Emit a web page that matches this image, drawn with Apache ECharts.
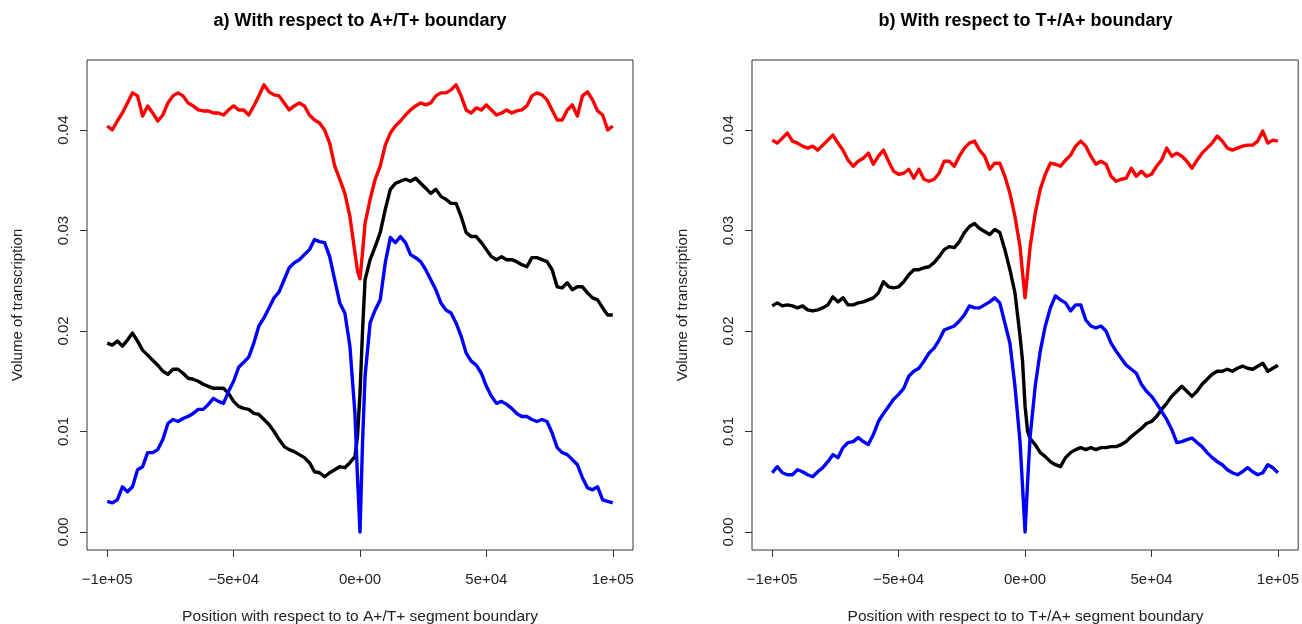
<!DOCTYPE html>
<html>
<head>
<meta charset="utf-8">
<title>Volume of transcription around segment boundaries</title>
<script src="https://cdn.jsdelivr.net/npm/echarts@6/dist/echarts.min.js"></script>
<style>
  html, body { margin: 0; padding: 0; background: #fff; }
  #chart { width: 1302px; height: 624px; }
</style>
</head>
<body>
<div id="chart"></div>
<script>
// Positions relative to the segment boundary, in kb (converted to bp below)
const positionKb = [
  -100,-98,-96,-94,-92,-90,-88,-86,-84,-82,-80,-78,-76,-74,-72,-70,-68,-66,-64,-62,
  -60,-58,-56,-54,-52,-50,-48,-46,-44,-42,-40,-38,-36,-34,-32,-30,-28,-26,-24,-22,
  -20,-18,-16,-14,-12,-10,-8,-6,-4,-2,-1,0,1,2,4,6,8,10,12,14,16,18,20,22,24,26,28,
  30,32,34,36,38,40,42,44,46,48,50,52,54,56,58,60,62,64,66,68,70,72,74,76,78,80,82,
  84,86,88,90,92,94,96,98,100
];

// Volumes of transcription, stored in units of 1e-3
// a) A+/T+ boundary
const aRed = [
  40.4,40.0,40.9,41.7,42.7,43.7,43.4,41.4,42.4,41.7,40.9,41.5,42.7,43.4,43.7,43.4,42.7,42.4,42.0,41.9,
  41.9,41.7,41.7,41.5,42.0,42.4,42.0,42.0,41.5,42.4,43.4,44.5,43.8,43.5,43.4,42.7,42.0,42.4,42.7,42.4,
  41.5,41.0,40.7,40.0,38.7,36.4,35.1,33.7,31.4,27.8,26.0,25.2,27.8,30.7,33.1,35.1,36.4,38.5,39.7,40.4,40.9,41.5,42.0,42.4,42.7,42.5,42.7,
  43.4,43.7,43.7,44.0,44.5,43.4,42.0,41.7,42.2,42.0,42.5,42.0,41.5,41.7,42.0,41.7,41.9,42.0,42.4,43.4,43.7,43.5,43.0,42.0,41.0,41.0,42.0,
  42.5,41.4,43.4,43.8,43.0,41.9,41.5,40.0,40.4
];
const aBlack = [
  18.8,18.6,19.0,18.5,19.1,19.8,19.0,18.1,17.6,17.1,16.6,16.0,15.7,16.2,16.2,15.8,15.3,15.2,15.0,14.7,
  14.5,14.3,14.3,14.3,13.8,13.0,12.5,12.3,12.2,11.8,11.7,11.2,10.7,10.0,9.2,8.5,8.2,8.0,7.7,7.4,
  6.9,6.0,5.9,5.5,5.9,6.2,6.5,6.4,6.9,7.5,9.5,13.8,20.0,25.1,27.1,28.4,29.8,32.1,34.1,34.7,34.9,35.1,34.9,35.2,34.7,34.2,33.7,
  34.1,33.4,33.1,32.7,32.7,31.4,29.8,29.4,29.4,28.8,28.1,27.4,27.1,27.4,27.1,27.1,26.9,26.6,26.4,27.3,27.3,27.1,26.9,26.1,24.4,24.3,24.8,
  24.1,24.4,24.4,23.8,23.3,23.1,22.3,21.6,21.6
];
const aBlue = [
  3.05,2.9,3.2,4.5,4.0,4.5,6.2,6.5,7.9,7.9,8.2,9.2,10.8,11.2,11.0,11.3,11.5,11.8,12.2,12.2,
  12.7,13.3,13.0,12.8,14.0,15.0,16.4,16.9,17.4,18.8,20.5,21.3,22.3,23.3,23.9,25.1,26.3,26.8,27.1,27.6,
  28.1,29.1,28.9,28.8,27.4,25.1,22.8,21.8,18.5,11.8,5.5,0.0,8.9,15.5,20.8,22.1,23.1,26.8,29.3,28.8,29.4,28.8,27.6,27.3,26.9,26.1,25.1,
  24.1,22.8,22.1,21.8,20.8,19.5,17.8,17.0,16.6,15.8,14.5,13.5,12.8,13.0,12.7,12.3,11.8,11.5,11.5,11.2,11.0,11.2,11.0,9.85,8.4,7.9,7.7,
  7.2,6.7,5.4,4.4,4.2,4.5,3.2,3.05,2.9
];

// b) T+/A+ boundary
const bRed = [
  39.0,38.7,39.2,39.7,38.9,38.7,38.4,38.2,38.4,38.0,38.5,39.0,39.5,38.7,38.0,37.0,36.4,36.9,37.2,37.7,
  36.6,37.4,38.0,36.9,35.9,35.6,35.7,36.1,35.2,36.1,35.1,34.9,35.1,35.7,36.9,36.9,36.4,37.4,38.2,38.7,
  38.9,38.0,37.4,36.1,36.7,36.7,35.4,33.7,31.4,28.4,25.8,23.3,25.8,28.4,31.7,34.1,35.6,36.7,36.6,36.4,37.0,37.5,38.4,38.9,38.4,37.4,36.6,
  36.9,36.6,35.4,34.9,35.1,35.2,36.2,35.4,35.9,35.4,35.6,36.4,37.0,38.2,37.4,37.7,37.4,36.9,36.2,37.0,37.7,38.2,38.7,39.4,38.9,38.2,38.0,
  38.2,38.4,38.5,38.5,38.9,39.9,38.7,39.0,38.9
];
const bBlack = [
  22.5,22.8,22.5,22.6,22.5,22.3,22.5,22.1,22.0,22.1,22.3,22.6,23.4,22.9,23.3,22.6,22.6,22.8,22.9,23.1,
  23.3,23.8,24.9,24.4,24.3,24.4,24.9,25.6,26.1,26.1,26.3,26.4,26.8,27.4,28.1,28.4,28.3,28.9,29.8,30.4,
  30.7,30.2,29.9,29.6,30.1,29.8,28.1,26.1,23.8,19.5,17.0,12.5,10.0,9.3,8.7,7.9,7.5,7.0,6.7,6.5,7.4,7.9,8.2,8.4,8.2,8.4,8.2,
  8.4,8.4,8.5,8.5,8.7,9.0,9.5,9.9,10.3,10.8,11.0,11.5,12.2,12.8,13.5,14.0,14.5,14.0,13.5,14.0,14.7,15.2,15.7,16.0,16.0,16.2,16.0,
  16.3,16.5,16.3,16.2,16.5,16.8,16.0,16.3,16.6
];
const bBlue = [
  5.9,6.5,5.9,5.7,5.7,6.2,6.0,5.7,5.5,6.0,6.4,7.0,7.7,7.4,8.4,8.9,9.0,9.4,9.0,8.7,
  9.7,11.0,11.8,12.5,13.2,13.7,14.3,15.5,16.0,16.3,17.0,17.8,18.3,19.1,20.1,20.3,20.5,21.0,21.6,22.5,
  22.3,22.3,22.6,22.9,23.3,22.8,20.8,18.8,14.5,9.0,4.5,0.0,5.0,9.5,14.5,18.0,20.5,22.3,23.5,23.1,22.8,22.0,22.6,22.6,21.1,20.5,20.3,
  20.5,20.0,18.8,18.0,17.3,16.6,16.2,15.8,14.7,14.0,13.5,12.8,12.0,11.2,10.2,8.9,9.0,9.2,9.35,8.9,8.5,7.9,7.4,7.0,6.7,6.2,5.9,
  5.7,6.0,6.4,6.0,5.7,5.9,6.7,6.4,5.9
];

// Tick positions and labels
const xTickValues = [-100000, -50000, 0, 50000, 100000];
const xTickLabels = ['\u22121e+05', '\u22125e+04', '0e+00', '5e+04', '1e+05'];
const yTickValues = [0, 0.01, 0.02, 0.03, 0.04];
const yTickLabels = ['0.00', '0.01', '0.02', '0.03', '0.04'];

const panelTitles = ['a) With respect to A+/T+ boundary', 'b) With respect to T+/A+ boundary'];
const xTitles = ['Position with respect to to A+/T+ segment boundary',
                 'Position with respect to to T+/A+ segment boundary'];
const yTitle = 'Volume of transcription';

const FONT = '"Liberation Sans", Arial, Helvetica, sans-serif';
const INK = '#222';

function toPairs(values) {
  return positionKb.map((kb, i) => [kb * 1000, values[i] / 1000]);
}

const panels = [
  { left: 87, width: 546, red: aRed, black: aBlack, blue: aBlue },
  { left: 752, width: 547, red: bRed, black: bBlack, blue: bBlue }
];
const TOP = 60, HEIGHT = 490;

const grids = [], xAxes = [], yAxes = [], series = [], graphics = [];
panels.forEach((p, i) => {
  grids.push({ left: p.left, top: TOP, width: p.width, height: HEIGHT,
               show: true, borderColor: '#333', borderWidth: 1, backgroundColor: 'transparent' });
  xAxes.push({
    gridIndex: i, type: 'value', min: -108000, max: 108000, position: 'bottom',
    axisLine: { show: false, onZero: false }, splitLine: { show: false },
    axisTick: { show: true, customValues: xTickValues, length: 7, lineStyle: { color: '#333', width: 1 } },
    axisLabel: { customValues: xTickValues, margin: 22, fontSize: 15, fontFamily: FONT, color: INK,
                 formatter: v => xTickLabels[xTickValues.indexOf(v)] }
  });
  yAxes.push({
    gridIndex: i, type: 'value', min: -0.00179, max: 0.04697, position: 'left',
    axisLine: { show: false, onZero: false }, splitLine: { show: false },
    axisTick: { show: true, customValues: yTickValues, length: 7, lineStyle: { color: '#333', width: 1 } },
    axisLabel: { customValues: yTickValues, rotate: 90, margin: 16, fontSize: 15, fontFamily: FONT, color: INK,
                 formatter: v => yTickLabels[yTickValues.findIndex(t => Math.abs(t - v) < 1e-9)] }
  });
  [['#ff0000', p.red], ['#000000', p.black], ['#0000ff', p.blue]].forEach(([color, vals]) => {
    series.push({
      type: 'line', xAxisIndex: i, yAxisIndex: i, data: toPairs(vals),
      showSymbol: false, symbol: 'none', silent: true,
      lineStyle: { color, width: 3.4, join: 'round' }
    });
  });
  const cx = p.left + p.width / 2;
  graphics.push(
    { type: 'text', x: cx, y: 21, style: { text: panelTitles[i], font: 'bold 18px ' + FONT,
      fill: '#000', align: 'center', verticalAlign: 'middle' } },
    { type: 'text', x: cx, y: 617, style: { text: xTitles[i], font: '15.5px ' + FONT,
      fill: INK, align: 'center', verticalAlign: 'middle' } },
    { type: 'text', x: p.left - 69, y: TOP + HEIGHT / 2, rotation: Math.PI / 2,
      style: { text: yTitle, font: '15px ' + FONT, fill: INK, align: 'center', verticalAlign: 'middle' } }
  );
});

const chart = echarts.init(document.getElementById('chart'), null, { renderer: 'canvas' });
chart.setOption({
  animation: false,
  backgroundColor: '#fff',
  grid: grids,
  xAxis: xAxes,
  yAxis: yAxes,
  series: series,
  graphic: graphics
});
</script>
</body>
</html>
